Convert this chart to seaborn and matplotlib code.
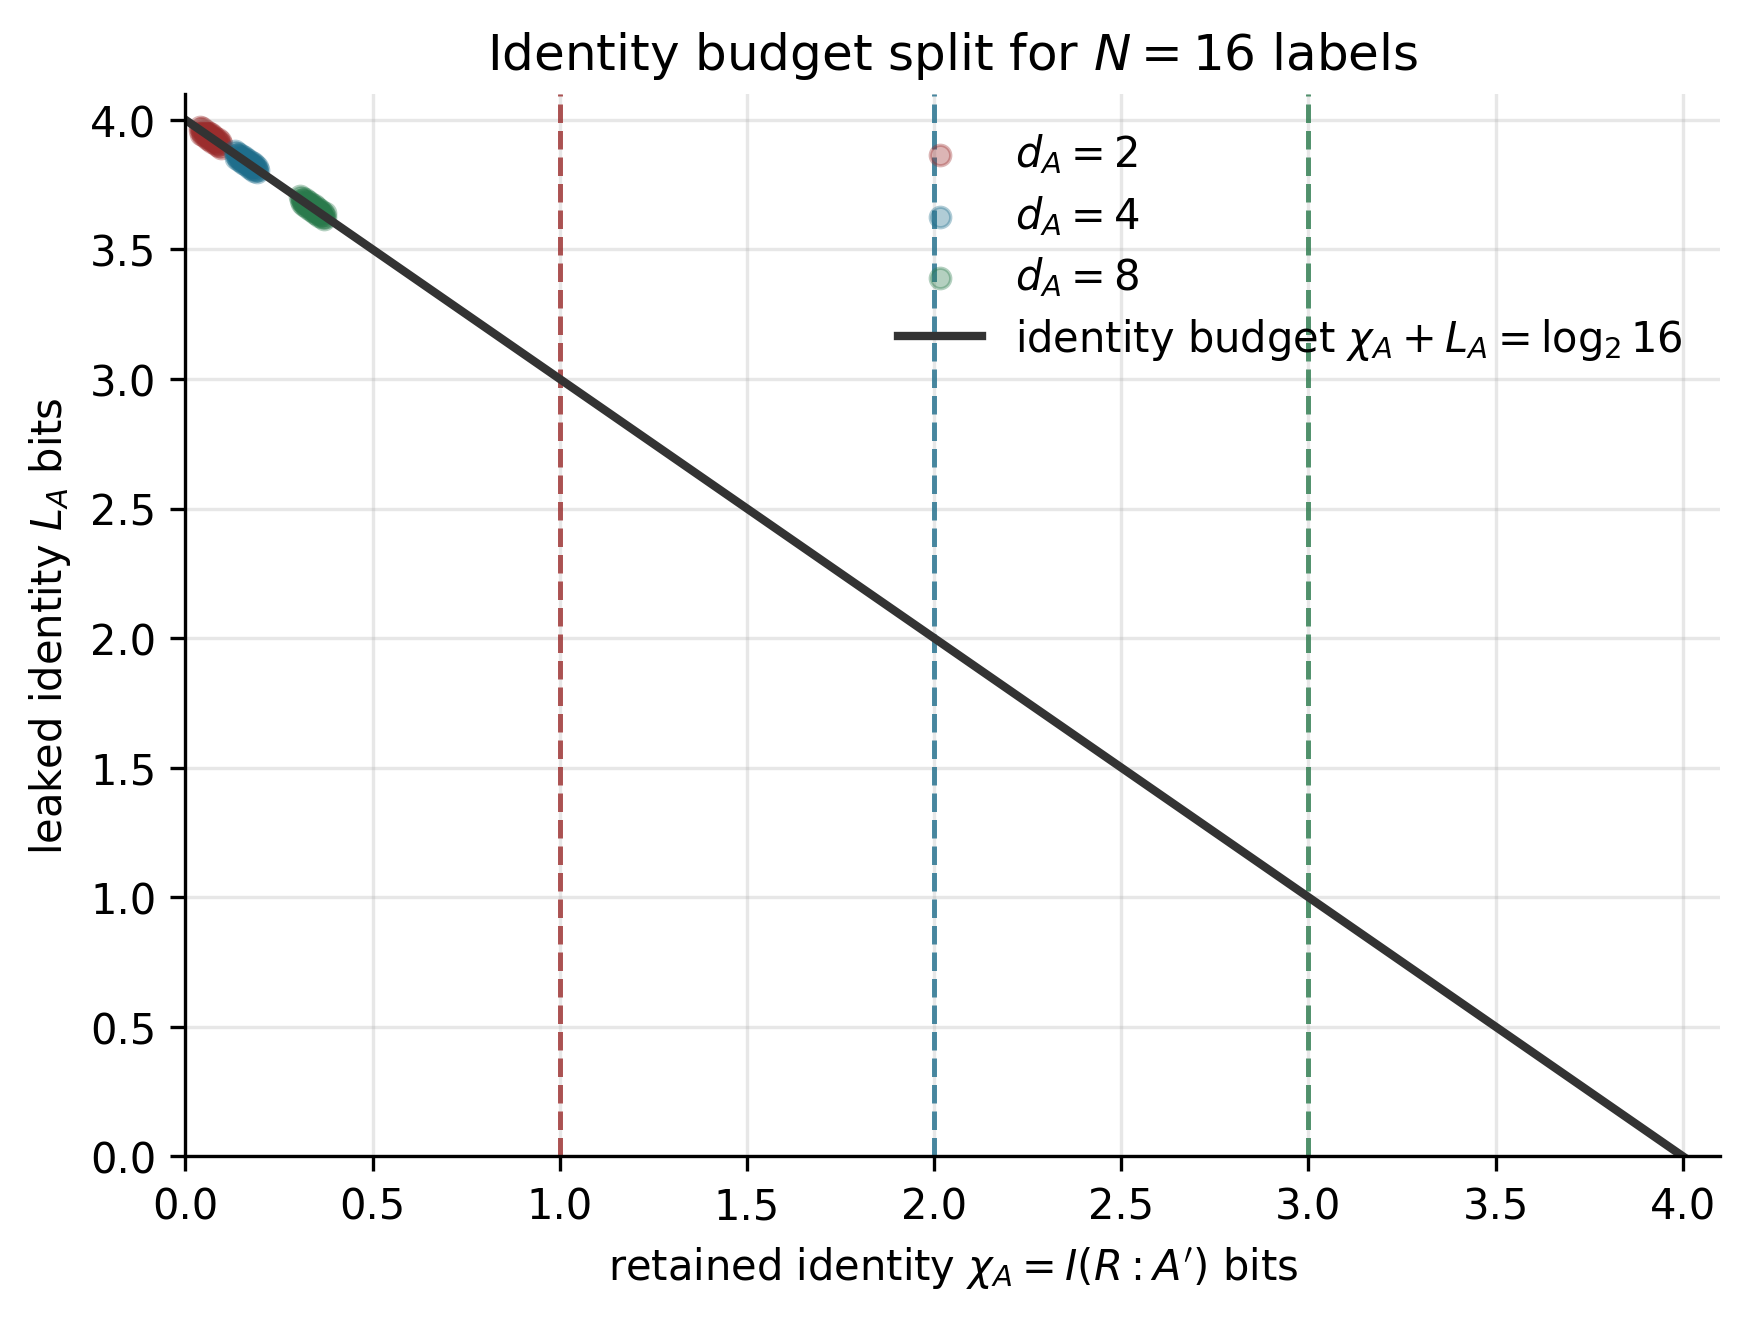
import numpy as np
import pandas as pd
import matplotlib
matplotlib.use("Agg")
import matplotlib.pyplot as plt
import seaborn as sns

# Data (retained chi_A, leaked L_A) per local dimension d_A
d_values = [2, 4, 8]
chi_d2 = [0.038, 0.040, 0.042, 0.044, 0.046, 0.048, 0.050, 0.052, 0.054, 0.056,
          0.058, 0.060, 0.062, 0.064, 0.066, 0.068, 0.070, 0.072, 0.074, 0.076,
          0.078, 0.080, 0.082, 0.084, 0.086, 0.088, 0.090, 0.092, 0.094, 0.096]
leak_d2 = [3.974, 3.960, 3.946, 3.968, 3.954, 3.940, 3.962, 3.948, 3.934, 3.956,
           3.942, 3.928, 3.950, 3.936, 3.922, 3.944, 3.930, 3.916, 3.938, 3.924,
           3.910, 3.932, 3.918, 3.904, 3.926, 3.912, 3.898, 3.920, 3.906, 3.892]
chi_d4 = [0.132, 0.134, 0.136, 0.138, 0.140, 0.142, 0.144, 0.146, 0.148, 0.150,
          0.152, 0.154, 0.156, 0.158, 0.160, 0.162, 0.164, 0.166, 0.168, 0.170,
          0.172, 0.174, 0.176, 0.178, 0.180, 0.182, 0.184, 0.186, 0.188, 0.190,
          0.192, 0.194]
leak_d4 = [3.880, 3.866, 3.852, 3.874, 3.860, 3.846, 3.868, 3.854, 3.840, 3.862,
           3.848, 3.834, 3.856, 3.842, 3.828, 3.850, 3.836, 3.822, 3.844, 3.830,
           3.816, 3.838, 3.824, 3.810, 3.832, 3.818, 3.804, 3.826, 3.812, 3.798,
           3.820, 3.806]
chi_d8 = [0.306, 0.308, 0.310, 0.312, 0.314, 0.316, 0.318, 0.320, 0.322, 0.324,
          0.326, 0.328, 0.330, 0.332, 0.334, 0.336, 0.338, 0.340, 0.342, 0.344,
          0.346, 0.348, 0.350, 0.352, 0.354, 0.356, 0.358, 0.360, 0.362, 0.364,
          0.366, 0.368, 0.370, 0.372, 0.374]
leak_d8 = [3.706, 3.692, 3.678, 3.700, 3.686, 3.672, 3.694, 3.680, 3.666, 3.688,
           3.674, 3.660, 3.682, 3.668, 3.654, 3.676, 3.662, 3.648, 3.670, 3.656,
           3.642, 3.664, 3.650, 3.636, 3.658, 3.644, 3.630, 3.652, 3.638, 3.624,
           3.646, 3.632, 3.618, 3.640, 3.626]
bound_x = [1.0, 2.0, 3.0]          # log2(d_A) caps
budget_x = [0.0, 4.0]
budget_y = [4.0, 0.0]

colors = ["#9b2d2d", "#1f6e8c", "#2a7a4c"]

plt.rcParams['font.family'] = ['DejaVu Sans']

fig, ax = plt.subplots(figsize=(5.833, 4.393), dpi=300)

series = [(chi_d2, leak_d2), (chi_d4, leak_d4), (chi_d8, leak_d8)]
for (cx, ly), d, col in zip(series, d_values, colors):
    sub = pd.DataFrame({"chi": cx, "L": ly})
    sns.scatterplot(data=sub, x="chi", y="L", color=col, alpha=0.35, s=24,
                    edgecolor=col, linewidth=0.8, label=f"$d_A = {d}$", ax=ax)

for bx, col in zip(bound_x, colors):
    ax.axvline(bx, color=col, ls="--", lw=1.2, alpha=0.8)

sns.lineplot(x=budget_x, y=budget_y, color="#333333", lw=2,
             label=r"identity budget $\chi_A + L_A = \log_2 16$", ax=ax)

ax.set_xlim(0, 4.1)
ax.set_ylim(0, 4.1)
ax.set_xticks(np.arange(0, 4.01, 0.5))
ax.set_yticks(np.arange(0, 4.01, 0.5))
ax.grid(True, alpha=0.3)
sns.despine(ax=ax)
ax.tick_params(labelsize=10)
ax.set_xlabel(r"retained identity $\chi_A = I(R:A')$ bits", fontsize=10)
ax.set_ylabel(r"leaked identity $L_A$ bits", fontsize=10)
ax.set_title(r"Identity budget split for $N = 16$ labels", fontsize=12)
ax.legend(loc="upper right", frameon=False, fontsize=10, labelspacing=0.42)

fig.subplots_adjust(left=0.106, right=0.983, top=0.928, bottom=0.122)
fig.savefig("out.png", dpi=300)
